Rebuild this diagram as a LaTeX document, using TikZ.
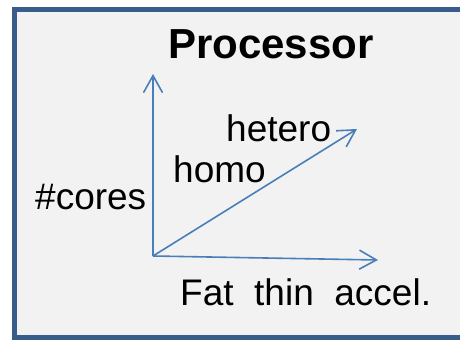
\documentclass[tikz,border=0pt]{standalone}
\usepackage{fontspec}
\setmainfont{Liberation Sans}
\usetikzlibrary{arrows.meta}
\definecolor{frameblue}{HTML}{385D8A}
\definecolor{axisblue}{HTML}{4A7EBB}
\definecolor{panelgray}{HTML}{F2F2F2}
\tikzset{
  axis/.style={axisblue, line width=1.6pt, -{Straight Barb[length=17pt,width=19pt]}},
  lbl/.style={anchor=base west, inner sep=0pt, font=\fontsize{37}{41}\selectfont}
}
\begin{document}
\begin{tikzpicture}[x=1pt, y=1pt]
                    \useasboundingbox (0,0) rectangle (460,340);
                    \filldraw[fill=panelgray, draw=frameblue, line width=5pt] (14.5,3) rectangle (475,330);
                    \coordinate (o) at (153,84);
                    \coordinate (ycores) at (153,266);
                    \coordinate (xkind) at (378,80);
                    \coordinate (diag) at (357,211);
                    \draw[axis] (o) -- (ycores);
                    \draw[axis] (o) -- (xkind);
                    \draw[axis] (o) -- (diag);
                    \node[lbl, font=\fontsize{42}{46}\selectfont\bfseries] (title) at (168,281) {Processor};
                    \node[lbl] (hetero) at (226,198) {hetero};
                    \node[lbl] (homo) at (173,157) {homo};
                    \node[lbl] (cores) at (35,130) {\#cores};
                    \node[lbl] (kinds) at (180,35) {Fat\ \ thin\ \ accel.};
                \end{tikzpicture}
\end{document}
